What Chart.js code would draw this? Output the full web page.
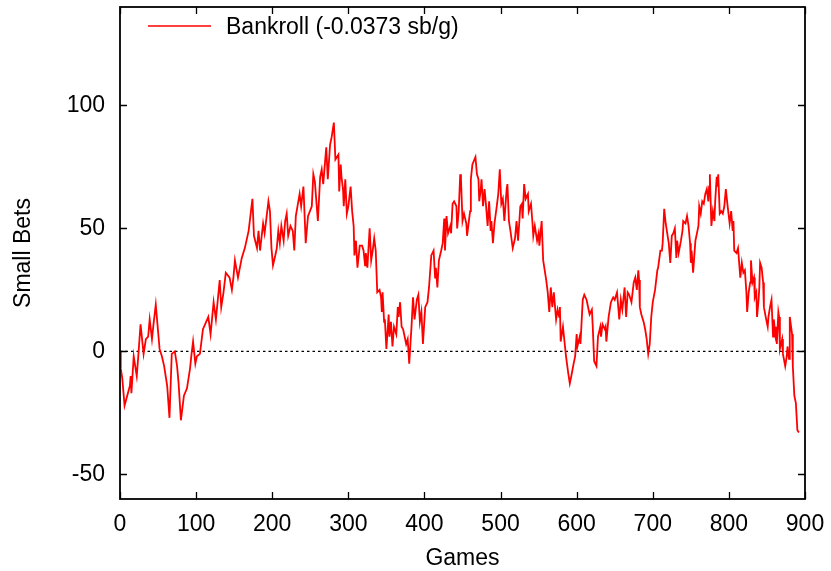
<!DOCTYPE html>
<html>
<head>
<meta charset="utf-8">
<script src="https://cdn.jsdelivr.net/npm/chart.js@4.4.0/dist/chart.umd.min.js"></script>
<style>
  html, body { margin: 0; padding: 0; background: #ffffff; }
  #wrap { width: 831px; height: 571px; position: relative; }
</style>
</head>
<body>
<div id="wrap"><canvas id="c" width="831" height="571"></canvas></div>
<script>
// Running bankroll (small bets) after each game
const seriesLabel = 'Bankroll (-0.0373 sb/g)';

const games = [
  0, 1, 3, 6, 13, 14, 15, 18, 22, 24, 27, 31, 34, 37, 39, 42, 44, 47, 52, 55,
  58, 60, 62, 65, 68, 72, 75, 77, 80, 84, 88, 92, 94, 96, 99, 101, 105, 109, 116, 119,
  123, 126, 131, 133, 136, 139, 144, 147, 149, 151, 155, 160, 164, 169, 174, 176, 180, 182, 184, 188,
  190, 195, 197, 199, 201, 204, 206, 208, 210, 212, 215, 217, 219, 221, 224, 227, 229, 231, 236, 238,
  241, 244, 247, 252, 254, 256, 260, 263, 265, 267, 271, 273, 276, 278, 281, 283, 287, 288, 290, 291,
  293, 294, 296, 298, 300, 303, 305, 307, 308, 310, 312, 315, 318, 320, 322, 323, 325, 328, 330, 332,
  334, 336, 338, 341, 343, 344, 345, 347, 348, 350, 353, 354, 356, 358, 360, 363, 365, 366, 368, 370,
  372, 376, 378, 380, 383, 385, 387, 390, 392, 394, 396, 398, 401, 404, 406, 409, 412, 414, 415, 417,
  419, 422, 424, 426, 427, 429, 431, 434, 435, 437, 439, 442, 443, 445, 447, 448, 450, 452, 455, 456,
  460, 461, 463, 467, 469, 471, 472, 474, 475, 477, 479, 481, 483, 485, 487, 488, 490, 492, 495, 497,
  499, 501, 503, 505, 508, 509, 511, 513, 516, 519, 521, 523, 526, 528, 529, 531, 533, 536, 537, 540,
  542, 543, 545, 548, 550, 551, 554, 556, 560, 562, 564, 566, 568, 570, 573, 575, 577, 578, 579, 582,
  586, 589, 591, 593, 596, 598, 600, 601, 604, 605, 608, 610, 613, 617, 620, 621, 623, 626, 628, 631,
  632, 634, 637, 638, 639, 642, 645, 648, 650, 653, 656, 658, 660, 663, 665, 667, 669, 672, 675, 677,
  679, 681, 682, 683, 685, 688, 690, 692, 694, 696, 698, 700, 703, 706, 707, 710, 712, 713, 715, 717,
  719, 721, 723, 725, 727, 729, 731, 732, 734, 737, 739, 740, 743, 745, 747, 749, 750, 751, 753, 756,
  758, 760, 761, 763, 765, 767, 769, 771, 773, 774, 775, 777, 779, 781, 782, 784, 785, 786, 788, 790,
  792, 794, 796, 798, 801, 803, 805, 806, 807, 810, 812, 815, 817, 819, 821, 823, 824, 826, 828, 829,
  831, 833, 834, 836, 837, 839, 840, 841, 843, 845, 846, 849, 851, 852, 854, 856, 858, 859, 861, 862,
  863, 865, 866, 867, 870, 871, 874, 876, 877, 879, 880, 883, 884, 886, 888, 890, 892
];

const bankroll = [
  0, -7, -11, -22, -14, -10, -17, -2, -10, -2, 11, -1, 5, 6, 13, 5, 11, 19, 1, -2,
  -6, -10, -14, -27, -1, 0, -6, -13, -28, -18, -15, -7, -1, 4, -5, -2, -1, 9, 14, 7,
  20, 13, 29, 18, 24, 32, 30, 25, 30, 37, 30, 38, 42, 49, 62, 47, 42, 49, 41, 52,
  48, 61, 57, 42, 35, 39, 42, 49, 44, 51, 45, 53, 56, 47, 51, 49, 41, 55, 64, 59,
  67, 44, 55, 59, 72, 69, 53, 71, 74, 68, 83, 70, 84, 87, 93, 78, 80, 65, 76, 71,
  66, 59, 70, 56, 59, 67, 57, 51, 39, 45, 34, 43, 43, 41, 35, 40, 34, 50, 37, 41,
  46, 41, 24, 25, 22, 16, 24, 12, 13, 1, 15, 6, 12, 2, 10, 7, 18, 14, 20, 10,
  9, 3, 5, -5, 10, 22, 13, 21, 23, 12, 16, 3, 18, 20, 26, 39, 41, 30, 34, 26,
  37, 41, 44, 54, 41, 55, 48, 51, 48, 60, 61, 59, 50, 57, 72, 70, 53, 56, 52, 47,
  57, 70, 76, 79, 72, 70, 61, 66, 70, 59, 66, 59, 51, 61, 49, 53, 44, 52, 59, 64,
  74, 60, 62, 53, 66, 68, 53, 49, 42, 46, 53, 45, 59, 60, 54, 68, 62, 64, 57, 60,
  52, 47, 51, 45, 48, 43, 53, 37, 29, 24, 16, 26, 18, 24, 13, 17, 14, 18, 4, 10,
  -2, -9, -13, -10, -5, -2, 7, 2, 6, 3, 21, 23, 21, 15, 17, 11, -4, -6, 6, 10,
  6, 11, 9, 10, 4, 14, 20, 22, 21, 24, 13, 21, 17, 26, 14, 24, 23, 20, 28, 30,
  25, 33, 29, 18, 15, 12, 9, 5, -1, 3, 14, 20, 25, 33, 34, 41, 41, 44, 58, 52,
  48, 44, 36, 47, 48, 50, 38, 45, 40, 45, 49, 53, 52, 55, 51, 44, 36, 41, 32, 45,
  48, 51, 59, 56, 61, 60, 64, 66, 61, 67, 72, 51, 57, 53, 61, 71, 67, 72, 56, 57,
  56, 59, 66, 60, 52, 57, 49, 53, 41, 40, 42, 30, 36, 32, 33, 24, 16, 24, 28, 37,
  28, 30, 22, 24, 14, 21, 26, 36, 34, 28, 18, 13, 10, 14, 18, 21, 6, 13, 7, 10,
  3, 16, 14, 1, 5, -1, -6, -2, 2, -3, 14, 7, -6, -18, -21, -32, -33
];

const xTicks = [0, 100, 200, 300, 400, 500, 600, 700, 800, 900];
const yTicks = [-50, 0, 50, 100];
const xRange = [0, 900];
const yRange = [-60, 140];

const xTitle = 'Games';
const yTitle = 'Small Bets';

const FONT = '"Liberation Sans", Arial, Helvetica, sans-serif';
const FONT_SIZE = 23;

// Frame around the plot area with inward tick marks on all four sides
const framePlugin = {
  id: 'frame',
  afterDatasetsDraw(chart) {
    const {ctx, chartArea: a, scales} = chart;
    const len = 7;
    ctx.save();
    ctx.strokeStyle = '#000';
    ctx.lineWidth = 1.3;
    ctx.beginPath();
    scales.x.ticks.forEach(t => {
      const px = Math.round(scales.x.getPixelForValue(t.value)) + 0.5;
      ctx.moveTo(px, a.bottom); ctx.lineTo(px, a.bottom - len);
      ctx.moveTo(px, a.top); ctx.lineTo(px, a.top + len);
    });
    scales.y.ticks.forEach(t => {
      const py = Math.round(scales.y.getPixelForValue(t.value)) + 0.5;
      ctx.moveTo(a.left, py); ctx.lineTo(a.left + len, py);
      ctx.moveTo(a.right, py); ctx.lineTo(a.right - len, py);
    });
    ctx.stroke();
    ctx.lineWidth = 1.8;
    ctx.strokeRect(a.left, a.top, a.right - a.left, a.bottom - a.top);
    ctx.restore();
  }
};

// Key drawn inside the plot, top left
const keyPlugin = {
  id: 'key',
  afterDraw(chart) {
    const {ctx, chartArea: a} = chart;
    const ds = chart.data.datasets[0];
    const y = a.top + 19;
    ctx.save();
    ctx.strokeStyle = ds.borderColor;
    ctx.lineWidth = 1.5;
    ctx.beginPath();
    ctx.moveTo(a.left + 28, y);
    ctx.lineTo(a.left + 91, y);
    ctx.stroke();
    ctx.fillStyle = '#000';
    ctx.font = FONT_SIZE + 'px ' + FONT;
    ctx.textBaseline = 'middle';
    ctx.textAlign = 'left';
    ctx.fillText(ds.label, a.left + 106, y + 2);
    ctx.restore();
  }
};

new Chart(document.getElementById('c'), {
  type: 'line',
  data: {
    datasets: [
      {
        label: seriesLabel,
        data: games.map((g, i) => ({x: g, y: bankroll[i]})),
        borderColor: '#ff0000',
        borderWidth: 1.8,
        pointRadius: 0,
        tension: 0,
        fill: false,
        order: 1
      },
      {
        label: 'zero',
        data: [{x: xRange[0], y: 0}, {x: xRange[1], y: 0}],
        borderColor: '#000000',
        borderWidth: 1.3,
        borderDash: [2.5, 3],
        pointRadius: 0,
        fill: false,
        order: 2
      }
    ]
  },
  options: {
    responsive: false,
    devicePixelRatio: 1,
    animation: false,
    layout: { padding: { left: 0, top: 7, right: 26, bottom: 0 } },
    plugins: {
      legend: { display: false },
      tooltip: { enabled: false }
    },
    scales: {
      x: {
        type: 'linear',
        min: xRange[0],
        max: xRange[1],
        afterBuildTicks: s => { s.ticks = xTicks.map(v => ({value: v})); },
        afterFit: s => { s.height = 72; s.paddingLeft = 0; s.paddingRight = 0; },
        grid: { display: false, drawTicks: false },
        border: { display: false },
        ticks: {
          padding: 12,
          color: '#000',
          font: { family: FONT, size: FONT_SIZE },
          maxRotation: 0,
          autoSkip: false
        },
        title: {
          display: true,
          text: xTitle,
          color: '#000',
          font: { family: FONT, size: FONT_SIZE, lineHeight: 1.03 },
          padding: { top: 0, bottom: 0 }
        }
      },
      y: {
        type: 'linear',
        min: yRange[0],
        max: yRange[1],
        afterBuildTicks: s => { s.ticks = yTicks.map(v => ({value: v})); },
        afterFit: s => { s.width = 120; s.paddingTop = 0; s.paddingBottom = 0; },
        grid: { display: false, drawTicks: false },
        border: { display: false },
        ticks: {
          padding: 15,
          color: '#000',
          font: { family: FONT, size: FONT_SIZE },
          autoSkip: false
        },
        title: {
          display: true,
          text: yTitle,
          color: '#000',
          font: { family: FONT, size: FONT_SIZE },
          padding: { top: 10, bottom: 0 }
        }
      }
    }
  },
  plugins: [framePlugin, keyPlugin]
});
</script>
</body>
</html>
